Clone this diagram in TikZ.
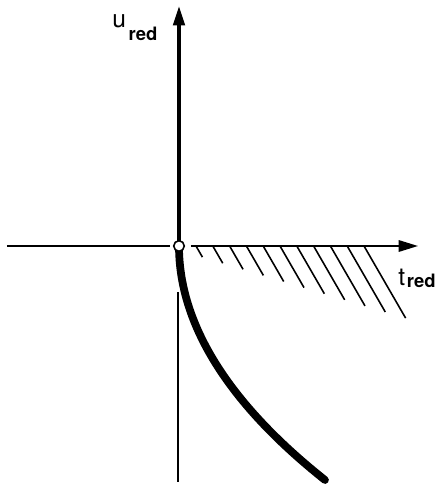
\documentclass[tikz,border=0pt]{standalone}
\usepackage{fontspec}
\newfontfamily\axisfont{TeX Gyre Heros}
\usetikzlibrary{arrows.meta}

\begin{document}
\begin{tikzpicture}[
    x=0.02cm, y=0.02cm,
    axisline/.style={
      line width=1.1pt,
      -{Triangle[length=11pt,width=6.5pt]}
    },
    hatchline/.style={
      line width=0.9pt
    },
    branch/.style={
      line width=4.4pt,
      line cap=round
    },
    axislabel/.style={
      font=\axisfont\fontsize{14}{15}\selectfont,
      inner sep=0pt,
      anchor=base west
    }
  ]
  \useasboundingbox (-179,-241) rectangle (258,246);

  % origin and axis ends
  \coordinate (origin) at (0,0);
  \coordinate (leftend) at (-172,0);
  \coordinate (leftgap) at (-9,0);
  \coordinate (rightgap) at (12,0);
  \coordinate (ttip) at (239,0);
  \coordinate (utip) at (0,240);
  \coordinate (branchend) at (146,-234);
  \coordinate (stemtop) at (-1,-46);
  \coordinate (stembot) at (-1,-236);

  % axes
  \draw[line width=1.1pt] (leftend) -- (leftgap);
  \draw[axisline] (rightgap) -- (ttip);
  \draw[axisline,line width=2pt] (origin) -- (utip);

  % hatching below the t axis
  \foreach \i in {0,...,10}{
    \pgfmathsetmacro\hx{17+16.8*\i}
    \pgfmathsetmacro\hl{(4.1+0.3*\hx)/0.716}
    \draw[hatchline] (\hx,0) -- ++(-60:\hl);
  }

  % thin line under the origin
  \draw[line width=0.8pt] (stemtop) -- (stembot);

  % thick branch
  \draw[branch] (origin) .. controls (0,-78) and (49,-157) .. (branchend);

  % small circle at the origin
  \node[circle,draw,fill=white,line width=0.9pt,inner sep=0pt,
        minimum size=6pt] (orig) at (origin) {};

  % labels
  \node[axislabel] (ulabel) at (-67,218)
    {u\kern1.5pt\raisebox{-7pt}{\fontsize{10.5}{11}\selectfont\bfseries red}};
  \node[axislabel] (tlabel) at (219,-39)
    {t\kern1pt\raisebox{-1.7pt}{\fontsize{10.5}{11}\selectfont\bfseries red}};

\end{tikzpicture}
\end{document}
